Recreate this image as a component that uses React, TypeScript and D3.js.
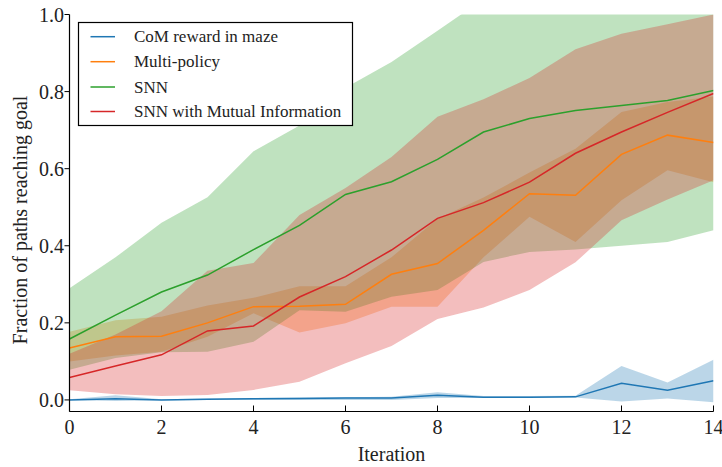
import React from "react";
import * as d3 from "d3";

const iterations = [0, 1, 2, 3, 4, 5, 6, 7, 8, 9, 10, 11, 12, 13, 14];
const seriesNames = ["CoM reward in maze", "Multi-policy", "SNN", "SNN with Mutual Information"];
const seriesColors = ["#1f77b4", "#ff7f0e", "#2ca02c", "#d62728"];

const comMean = [0.0, 0.003, 0.0, 0.002, 0.003, 0.004, 0.005, 0.005, 0.012, 0.007, 0.007, 0.008, 0.043, 0.025, 0.05];
const comLow = [0.0, -0.003, -0.001, 0.0, 0.0, 0.0, 0.0, 0.0, 0.005, 0.005, 0.005, 0.006, -0.004, 0.004, -0.006];
const comHigh = [0.002, 0.012, 0.002, 0.004, 0.005, 0.006, 0.007, 0.008, 0.02, 0.01, 0.01, 0.011, 0.088, 0.045, 0.104];

const multiMean = [0.135, 0.164, 0.165, 0.2, 0.242, 0.243, 0.248, 0.326, 0.354, 0.44, 0.535, 0.531, 0.637, 0.687, 0.668];
const multiLow = [0.1, 0.115, 0.125, 0.164, 0.225, 0.175, 0.199, 0.242, 0.242, 0.37, 0.475, 0.41, 0.518, 0.596, 0.565];
const multiHigh = [0.177, 0.207, 0.216, 0.245, 0.265, 0.295, 0.295, 0.37, 0.47, 0.525, 0.59, 0.652, 0.747, 0.773, 0.787];

const snnMean = [0.158, 0.22, 0.28, 0.324, 0.39, 0.453, 0.533, 0.566, 0.624, 0.695, 0.73, 0.751, 0.764, 0.777, 0.803];
const snnLow = [0.078, 0.109, 0.124, 0.125, 0.151, 0.233, 0.229, 0.268, 0.285, 0.358, 0.384, 0.39, 0.4, 0.41, 0.44];
const snnHigh = [0.29, 0.37, 0.46, 0.526, 0.645, 0.712, 0.81, 0.877, 0.958, 1.04, 1.1, 1.14, 1.16, 1.18, 1.2];

const miMean = [0.058, 0.088, 0.117, 0.179, 0.192, 0.267, 0.32, 0.389, 0.471, 0.512, 0.565, 0.64, 0.695, 0.746, 0.795];
const miLow = [0.025, 0.015, 0.01, 0.013, 0.026, 0.047, 0.095, 0.14, 0.21, 0.24, 0.285, 0.357, 0.466, 0.52, 0.57];
const miHigh = [0.12, 0.17, 0.23, 0.335, 0.355, 0.48, 0.55, 0.63, 0.735, 0.78, 0.835, 0.91, 0.95, 0.975, 1.0];

const xTicks = [0, 2, 4, 6, 8, 10, 12, 14];
const yTicks = [0.0, 0.2, 0.4, 0.6, 0.8, 1.0];

const means = [comMean, multiMean, snnMean, miMean];
const lows = [comLow, multiLow, snnLow, miLow];
const highs = [comHigh, multiHigh, snnHigh, miHigh];

export default function App() {
  const W = 722, H = 467;
  const left = 69.5, right = 713.5, top = 14.5, bottom = 411.5;
  const x = d3.scaleLinear().domain([0, 14]).range([left, right]);
  const y = d3.scaleLinear().domain([-0.03, 1.0]).range([bottom, top]);
  const font = "'Liberation Serif', 'Times New Roman', serif";

  const area = (lo: number[], hi: number[]) =>
    d3.area<number>()
      .x((d) => x(d))
      .y0((_, i) => y(lo[i]))
      .y1((_, i) => y(hi[i]))(iterations) || "";
  const line = (m: number[]) =>
    d3.line<number>()
      .x((d) => x(d))
      .y((_, i) => y(m[i]))(iterations) || "";

  const legendX = 78.5, legendY = 22.5, legendW = 274, legendH = 103;
  const rowY = [36.7, 61.7, 87, 111.5];

  return (
    <svg width={W} height={H} style={{ position: "absolute", left: 0, top: 0, background: "#fff" }}>
      <defs>
        <clipPath id="plotclip">
          <rect x={left} y={top} width={right - left} height={bottom - top} />
        </clipPath>
      </defs>
      <rect x={0} y={0} width={W} height={H} fill="#fff" />
      <g clipPath="url(#plotclip)">
        {seriesColors.map((c, k) => (
          <path key={"a" + k} d={area(lows[k], highs[k])} fill={c} fillOpacity={0.3} stroke="none" />
        ))}
        {seriesColors.map((c, k) => (
          <path key={"l" + k} d={line(means[k])} fill="none" stroke={c} strokeWidth={1.5} />
        ))}
      </g>
      <line x1={left} x2={left} y1={top} y2={bottom} stroke="#000" strokeWidth={1.2} />
      <line x1={left} x2={right} y1={bottom} y2={bottom} stroke="#000" strokeWidth={1.2} />
      {xTicks.map((t) => (
        <g key={"xt" + t}>
          <line x1={x(t)} x2={x(t)} y1={bottom} y2={bottom - 6} stroke="#000" strokeWidth={1} />
          <text x={x(t)} y={434} textAnchor="middle" fontFamily={font} fontSize={20} fill="#222">{t}</text>
        </g>
      ))}
      {yTicks.map((t) => (
        <g key={"yt" + t}>
          <line x1={left - 5} x2={left} y1={y(t)} y2={y(t)} stroke="#000" strokeWidth={1} />
          <text x={64} y={y(t) + 7} textAnchor="end" fontFamily={font} fontSize={20} fill="#222">{t.toFixed(1)}</text>
        </g>
      ))}
      <text x={(left + right) / 2} y={461} textAnchor="middle" fontFamily={font} fontSize={20} fill="#222">Iteration</text>
      <text transform={`translate(27,220) rotate(-90)`} textAnchor="middle" fontFamily={font} fontSize={20} fill="#222">Fraction of paths reaching goal</text>
      <rect x={legendX} y={legendY} width={legendW} height={legendH} fill="#fff" stroke="#000" strokeWidth={1.2} />
      {seriesNames.map((n, k) => (
        <g key={"lg" + k}>
          <line x1={90.5} x2={115} y1={rowY[k]} y2={rowY[k]} stroke={seriesColors[k]} strokeWidth={1.5} />
          <text x={134} y={rowY[k] + 5.5} fontFamily={font} fontSize={17} fill="#222">{n}</text>
        </g>
      ))}
    </svg>
  );
}
